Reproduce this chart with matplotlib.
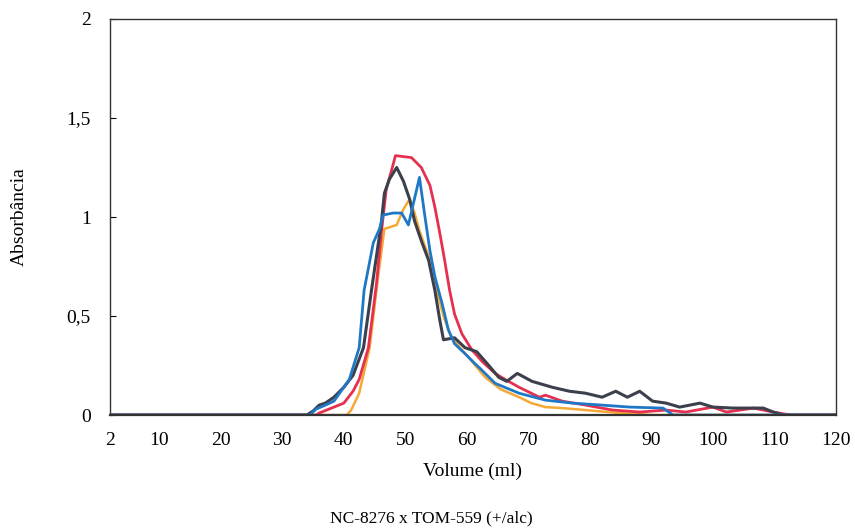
"""Gel filtration profile: absorbance vs elution volume."""
import matplotlib
matplotlib.use("Agg")
import matplotlib.pyplot as plt

# values
dark_x = [2, 34, 35, 36, 37, 38.4, 40, 41.5, 43.2, 44.5, 46.1, 46.6, 47.4, 48.6, 49.7,
          50.7, 51.5, 52.6, 53.8, 54.8, 55.6, 56.2, 58, 59.7, 61.6, 63.3, 65.2, 66.5, 68.2,
          70.6, 73.9, 76.7, 79.3, 82, 84.2, 86.1, 88.1, 90.2, 92.4, 94.6, 97.9, 100, 103.3,
          108.2, 109.8, 111.5, 120]
dark_y = [0, 0, 0.02, 0.05, 0.06, 0.09, 0.14, 0.20, 0.34, 0.63, 0.97, 1.12, 1.19, 1.25, 1.18,
          1.09, 0.98, 0.88, 0.78, 0.63, 0.48, 0.38, 0.39, 0.34, 0.32, 0.26, 0.19, 0.17, 0.21,
          0.17, 0.14, 0.12, 0.11, 0.09, 0.12, 0.09, 0.12, 0.07, 0.06, 0.04, 0.06, 0.04, 0.035,
          0.035, 0.015, 0, 0]

red_x = [2, 35.5, 36, 38, 40, 41.5, 42.5, 44, 45.3, 46.1, 46.9, 47.8, 48.4, 51, 52.6, 54,
         54.8, 55.6, 56.4, 57.2, 58, 59.2, 60.8, 62.5, 64.6, 66.2, 68.5, 71.8, 72.8, 75.5,
         79.3, 83.7, 88.1, 92.4, 95.6, 100, 102.2, 106.6, 109.8, 112.6, 120]
red_y = [0, 0, 0.01, 0.035, 0.06, 0.12, 0.18, 0.34, 0.66, 0.92, 1.14, 1.24, 1.31, 1.30, 1.25, 1.16,
         1.05, 0.92, 0.78, 0.63, 0.51, 0.41, 0.33, 0.27, 0.21, 0.18, 0.14, 0.09, 0.10, 0.07,
         0.05, 0.025, 0.015, 0.025, 0.015, 0.04, 0.015, 0.035, 0.015, 0, 0]

blue_x = [2, 34.5, 35.5, 37, 38.4, 40.9, 42.5, 43.3, 44.8, 45.8, 46.4, 48, 49.4, 50.5, 52.3,
          53.2, 54, 54.8, 56, 57, 58, 59.7, 61.3, 62, 64.6, 68.5, 72.8, 77.2, 82, 86.5,
          91.9, 93.5, 120]
blue_y = [0, 0, 0.03, 0.05, 0.07, 0.18, 0.34, 0.63, 0.87, 0.94, 1.01, 1.02, 1.02, 0.96, 1.20,
          1.00, 0.83, 0.70, 0.56, 0.43, 0.36, 0.31, 0.26, 0.24, 0.16, 0.11, 0.075, 0.06, 0.05, 0.04,
          0.035, 0, 0]

orange_x = [2, 40.5, 41.2, 42.5, 44.2, 45.5, 46.6, 48.6, 49.7, 50.7, 51.5, 52.3, 53.8, 54.8,
            56.2, 57.5, 60.3, 63, 65.5, 68.5, 70.5, 72.8, 75.5, 79.3, 84.8, 90.2, 120]
orange_y = [0, 0, 0.025, 0.11, 0.34, 0.68, 0.94, 0.96, 1.04, 1.09, 1.02, 0.93, 0.80, 0.67,
            0.50, 0.39, 0.29, 0.19, 0.13, 0.09, 0.06, 0.04, 0.035, 0.025, 0.01, 0, 0]

x_ticks = [2, 10, 20, 30, 40, 50, 60, 70, 80, 90, 100, 110, 120]
y_ticks = [0, 0.5, 1, 1.5, 2]
y_labels = ["0", "0,5", "1", "1,5", "2"]

plt.rcParams["font.family"] = ["Liberation Serif", "DejaVu Serif"]

fig = plt.figure(figsize=(8.55, 5.32), dpi=100)
ax = fig.add_axes([0.1287, 0.2199, 0.849, 0.7444])

ax.plot(orange_x, orange_y, color="#f5a833", lw=1.8)
ax.plot(red_x, red_y, color="#e6304f", lw=2.0)
ax.plot(dark_x, dark_y, color="#3c404c", lw=2.2)
ax.plot(blue_x, blue_y, color="#1f78c6", lw=2.0)

ax.set_xlim(2, 120)
ax.set_ylim(0, 2)
ax.set_xticks(x_ticks)
ax.set_yticks(y_ticks)
ax.set_yticklabels(y_labels)
ax.tick_params(axis="x", length=0, labelsize=14, pad=12)
ax.tick_params(axis="y", direction="in", length=4, labelsize=14, pad=14)
for s in ax.spines.values():
    s.set_color("#333333")
    s.set_linewidth(1.0)
ax.spines["bottom"].set_linewidth(1.6)

ax.set_xlabel("Volume (ml)", fontsize=14, labelpad=10)
ax.set_ylabel("Absorbância", fontsize=14, labelpad=28)
fig.text(0.505, 0.018, "NC-8276 x TOM-559 (+/alc)", ha="center", fontsize=12.5)

fig.savefig("out.png", dpi=100)
